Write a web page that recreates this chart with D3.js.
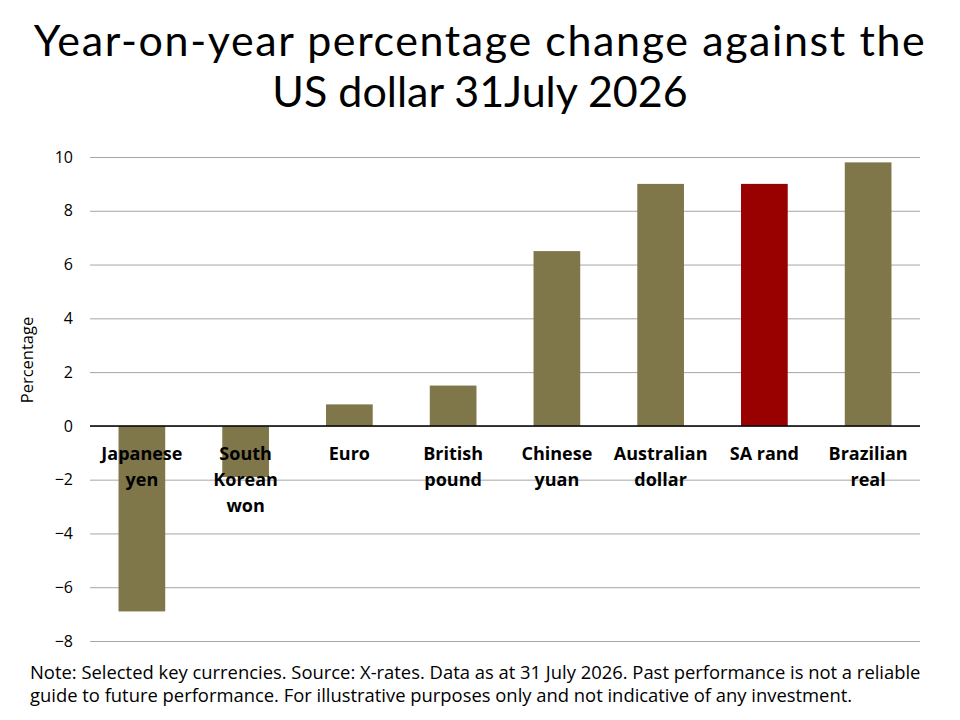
<!DOCTYPE html>
<html>
<head>
<meta charset="utf-8">
<script src="https://cdn.jsdelivr.net/npm/d3@7"></script>
<style>
  body { margin: 0; background: #fff; }
  text { font-family: "Open Sans", "Liberation Sans", sans-serif; }
</style>
</head>
<body>
<script>
// chart data
let currencies = ['Japanese yen', 'South Korean won', 'Euro', 'British pound',
  'Chinese yuan', 'Australian dollar', 'SA rand', 'Brazilian real']
let labelLines = [['Japanese', 'yen'], ['South', 'Korean', 'won'], ['Euro'], ['British', 'pound'],
  ['Chinese', 'yuan'], ['Australian', 'dollar'], ['SA rand'], ['Brazilian', 'real']]
let changes = [-6.9, -1.9, 0.8, 1.5, 6.5, 9.0, 9.0, 9.8]
let yTicks = [-8, -6, -4, -2, 0, 2, 4, 6, 8, 10]
let highlight = 'SA rand'

// measurements
let m = {
  width: 960,
  height: 720,
  left: 90,
  right: 920,
  top: 157,
  bottom: 641,
}

let svg = d3.select('body')
  .append('svg')
  .attr('width', m.width)
  .attr('height', m.height)

let xScale = d3.scaleBand()
  .domain(currencies)
  .range([m.left, m.right])
  .paddingInner(0.55)
  .paddingOuter(0.275)

let yScale = d3.scaleLinear()
  .domain([-8, 10])
  .range([m.bottom, m.top])

// gridlines
let yAxis = d3.axisLeft(yScale)
  .tickValues(yTicks)
  .tickSize(-(m.right - m.left))
  .tickPadding(17)
  .tickFormat(d3.format('d'))

let gy = svg.append('g')
  .attr('transform', 'translate(' + m.left + ',0)')
  .call(yAxis)
gy.select('.domain').remove()
gy.selectAll('.tick line').attr('stroke', '#a6a6a6').attr('stroke-width', 1)
gy.selectAll('.tick text')
  .attr('font-size', 16)
  .attr('fill', '#000')
  .style('font-family', '"Open Sans", sans-serif')

// bars
svg.selectAll('rect.bar')
  .data(currencies)
  .enter()
  .append('rect')
    .attr('class', 'bar')
    .attr('x', function(d) { return xScale(d) })
    .attr('width', xScale.bandwidth())
    .attr('y', function(d, i) { return yScale(Math.max(0, changes[i])) })
    .attr('height', function(d, i) { return Math.abs(yScale(changes[i]) - yScale(0)) })
    .attr('fill', function(d) { return d == highlight ? '#990000' : '#7f7649' })

// zero line
svg.append('line')
  .attr('x1', m.left)
  .attr('x2', m.right)
  .attr('y1', yScale(0))
  .attr('y2', yScale(0))
  .attr('stroke', '#000')
  .attr('stroke-width', 1.5)

// category labels
let labels = svg.selectAll('text.cat')
  .data(currencies)
  .enter()
  .append('text')
    .attr('class', 'cat')
    .attr('text-anchor', 'middle')
    .attr('font-size', 18)
    .attr('font-weight', 'bold')
    .attr('fill', '#000')
    .attr('x', function(d) { return xScale(d) + xScale.bandwidth() / 2 })
    .attr('y', yScale(0) + 34)

labels.selectAll('tspan')
  .data(function(d, i) { return labelLines[i] })
  .enter()
  .append('tspan')
    .attr('x', function() { return d3.select(this.parentNode).attr('x') })
    .attr('dy', function(d, i) { return i == 0 ? 0 : 26 })
    .text(function(d) { return d })

// y axis title
svg.append('text')
  .attr('transform', 'translate(33,360) rotate(-90)')
  .attr('text-anchor', 'middle')
  .attr('font-size', 16.5)
  .text('Percentage')

// title
svg.append('text')
  .attr('x', 480)
  .attr('y', 56)
  .attr('text-anchor', 'middle')
  .attr('font-size', 43)
  .attr('letter-spacing', 1.6)
  .style('font-family', 'Lato, sans-serif')
  .text('Year-on-year percentage change against the')

svg.append('text')
  .attr('x', 480)
  .attr('y', 107)
  .attr('text-anchor', 'middle')
  .attr('font-size', 43)
  .style('font-family', 'Lato, sans-serif')
  .text('US dollar 31July 2026')

// footnote
let note = ['Note: Selected key currencies. Source: X-rates. Data as at 31 July 2026. Past performance is not a reliable',
  'guide to future performance. For illustrative purposes only and not indicative of any investment.']
svg.selectAll('text.note')
  .data(note)
  .enter()
  .append('text')
    .attr('class', 'note')
    .attr('x', 30)
    .attr('y', function(d, i) { return 679 + i * 23 })
    .attr('font-size', 18.4)
    .text(function(d) { return d })
</script>
</body>
</html>
